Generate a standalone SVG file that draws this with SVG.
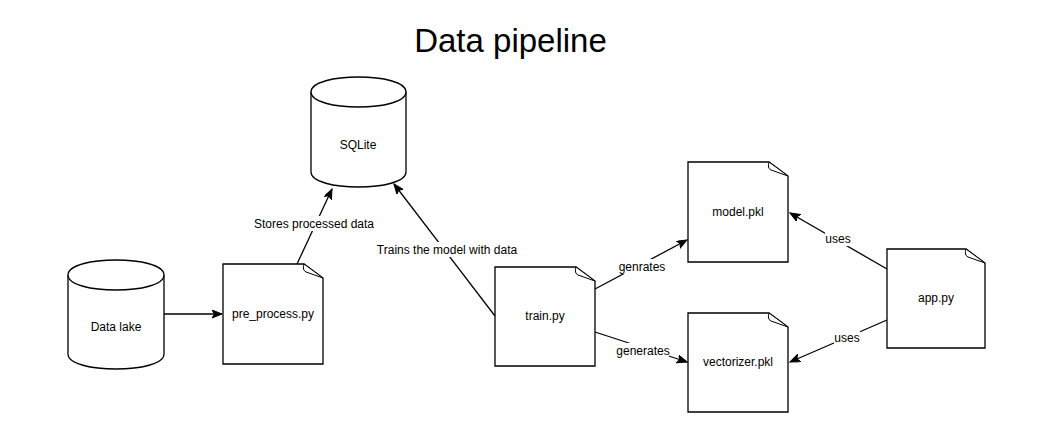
<svg xmlns="http://www.w3.org/2000/svg" width="1063" height="422" viewBox="0 0 1063 422">
<style>
.shape{fill:#fff;stroke:#000;stroke-width:1.3}
.fold{fill:#fff;stroke:#000;stroke-width:1}
.lbl{font-family:"Liberation Sans",Arial,sans-serif;font-size:12px;fill:#000;text-anchor:middle}
.title{font-family:"Liberation Sans",Arial,sans-serif;font-size:33px;fill:#000;text-anchor:middle}
.edge{fill:none;stroke:#000;stroke-width:1.3}
.bg{fill:#fff}
</style>
<defs>
<marker id="arr" markerUnits="userSpaceOnUse" markerWidth="12" markerHeight="10" refX="10" refY="4" orient="auto" viewBox="0 0 12 10">
<path d="M10,4 L0,0 L2.5,4 L0,8 Z" fill="#000" stroke="#000" stroke-width="1"/>
</marker>
</defs>
<rect width="1063" height="422" fill="#fff"/>
<text class="title" x="510.5" y="52">Data pipeline</text>

<g id="connectors">
<path class="edge" d="M164,314 L222,314" marker-end="url(#arr)"/>
<path class="edge" d="M297,264 L332,189" marker-end="url(#arr)"/>
<path class="edge" d="M495,316 L394,184" marker-end="url(#arr)"/>
<path class="edge" d="M595,289 L687,240" marker-end="url(#arr)"/>
<path class="edge" d="M595,332 L687,362" marker-end="url(#arr)"/>
<path class="edge" d="M887,269 L790,213" marker-end="url(#arr)"/>
<path class="edge" d="M887,320 L790,362" marker-end="url(#arr)"/>
<g id="edge-labels">
<rect class="bg" x="254" y="216" width="120" height="15"/>
<text class="lbl" x="314" y="228">Stores processed data</text>
<rect class="bg" x="377" y="242" width="141" height="15"/>
<text class="lbl" x="447" y="254">Trains the model with data</text>
<rect class="bg" x="619" y="259" width="46" height="15"/>
<text class="lbl" x="642" y="271">genrates</text>
<rect class="bg" x="617" y="343" width="52" height="15"/>
<text class="lbl" x="643" y="355">generates</text>
<rect class="bg" x="825" y="231" width="26" height="15"/>
<text class="lbl" x="838" y="243">uses</text>
<rect class="bg" x="834" y="330" width="26" height="15"/>
<text class="lbl" x="847" y="342">uses</text>
</g>
</g>

<g id="sqlite">
<path class="shape" d="M311,92 C311,72 406,72 406,92 L406,172 C406,192 311,192 311,172 Z"/>
<path class="shape" fill="none" d="M311,92 C311,112 406,112 406,92"/>
<text class="lbl" x="358" y="149">SQLite</text>
</g>

<g id="datalake">
<path class="shape" d="M68,275 C68,255 164,255 164,275 L164,354 C164,374 68,374 68,354 Z"/>
<path class="shape" fill="none" d="M68,275 C68,295 164,295 164,275"/>
<text class="lbl" x="116" y="331">Data lake</text>
</g>

<g id="preprocess">
<path class="shape" d="M223,264 L304,264 L323,278 L323,364 L223,364 Z"/>
<path class="fold" d="M304,264 Q302,270 306,272 L323,278 Z"/>
<text class="lbl" x="273" y="318">pre_process.py</text>
</g>

<g id="train">
<path class="shape" d="M495,267 L576,267 L595,281 L595,366 L495,366 Z"/>
<path class="fold" d="M576,267 Q574,273 578,275 L595,281 Z"/>
<text class="lbl" x="545" y="320">train.py</text>
</g>

<g id="model">
<path class="shape" d="M688,162 L769,162 L788,176 L788,262 L688,262 Z"/>
<path class="fold" d="M769,162 Q767,168 771,170 L788,176 Z"/>
<text class="lbl" x="738" y="216">model.pkl</text>
</g>

<g id="vectorizer">
<path class="shape" d="M688,313 L769,313 L788,327 L788,412 L688,412 Z"/>
<path class="fold" d="M769,313 Q767,319 771,321 L788,327 Z"/>
<text class="lbl" x="738" y="366">vectorizer.pkl</text>
</g>

<g id="app">
<path class="shape" d="M887,249 L966,249 L985,263 L985,348 L887,348 Z"/>
<path class="fold" d="M966,249 Q964,255 968,257 L985,263 Z"/>
<text class="lbl" x="936" y="302">app.py</text>
</g>
</svg>
